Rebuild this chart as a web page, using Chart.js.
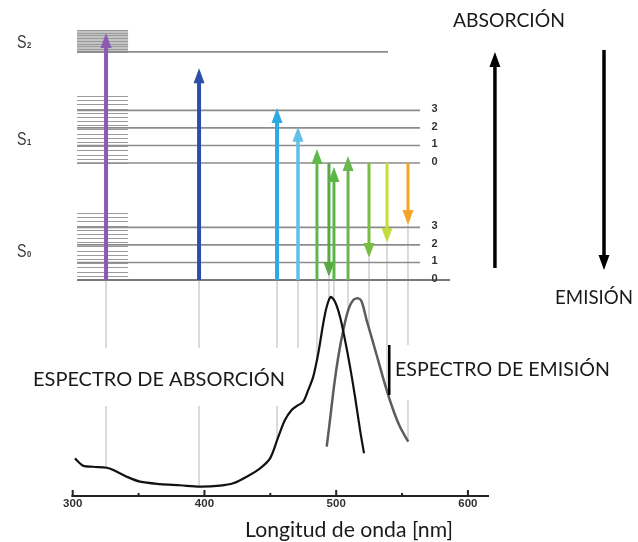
<!DOCTYPE html>
<html>
<head>
<meta charset="utf-8">
<script src="https://cdn.jsdelivr.net/npm/chart.js@4.4.1/dist/chart.umd.min.js"></script>
<style>
html, body { margin: 0; padding: 0; background: #fff; }
</style>
</head>
<body>
<canvas id="chartJablonski" width="638" height="542"></canvas>
<script>
// eje de longitud de onda
var waveTicks = [300, 350, 400, 450, 500, 550, 600];
var waveLabels = ['300', '', '400', '', '500', '', '600'];

// espectro de absorcion (nm, intensidad normalizada)
var absWave = [301.7, 308.0, 315.6, 325.8, 330.8, 341.0, 351.1, 366.3, 381.4, 396.6, 411.8, 421.9, 432.1, 442.2, 449.8, 456.1, 461.1, 466.2, 470.0, 475.0, 478.8, 482.6, 486.4, 490.2, 492.8, 495.8, 499.1, 502.9, 506.7, 510.5, 514.3, 518.1, 521.1];
var absValue = [0.189, 0.152, 0.147, 0.142, 0.131, 0.097, 0.072, 0.060, 0.054, 0.047, 0.052, 0.064, 0.097, 0.139, 0.189, 0.298, 0.382, 0.432, 0.452, 0.474, 0.533, 0.600, 0.717, 0.868, 0.951, 1.0, 0.976, 0.901, 0.784, 0.650, 0.499, 0.332, 0.215];

// espectro de emision
var emWave = [492.8, 495.3, 498.3, 501.6, 505.4, 509.2, 513.0, 516.8, 519.4, 523.1, 528.2, 533.2, 538.3, 543.3, 548.4, 554.7];
var emValue = [0.248, 0.382, 0.549, 0.700, 0.834, 0.935, 0.985, 0.993, 0.976, 0.884, 0.767, 0.650, 0.533, 0.432, 0.348, 0.273];

// niveles de energia (unidades arbitrarias)
var levelS0 = [0, 0.15, 0.30, 0.45];
var levelS1 = [1.0, 1.15, 1.30, 1.45];
var levelS2 = [1.95];
var vibLabels = ['0', '1', '2', '3'];
var stateSubs = ['0', '1', '2'];
var stateLabelE = [0.244, 1.205, 2.03];
var bandBottom = [0, 1.0, 1.95];
var bandTop = [0.573, 1.573, 2.137];
var bandCount = [17, 17, 9];

// transiciones (flechas)
var arrowWave = [325.3, 395.9, 455.1, 471.0, 485.4, 494.5, 498.3, 509.0, 524.9, 538.6, 554.5];
var arrowFrom = [0, 0, 0, 0, 0, 1.0, 0, 0, 1.0, 1.0, 1.0];
var arrowTo = [2.11, 1.81, 1.47, 1.31, 1.12, 0.026, 0.966, 1.06, 0.188, 0.316, 0.47];
var arrowColors = ['#8b5bb3', '#2d4ea6', '#2eaae2', '#62bfe8', '#5fb84a', '#58a944', '#5bb547', '#6ab84d', '#79be43', '#c4dc3c', '#f4a42a'];
var arrowWidth = [4, 4, 4, 3.5, 3, 3, 3, 3, 3, 3, 3];

var lineStartNm = 303.3;
var bandEndNm = 342;
var lineEndNm = 563.7;
var groundEndNm = 586.4;
var s2EndNm = 539.3;
var vibLabelNm = 574.6;

function px(chart, nm) { return chart.scales.x.getPixelForValue(nm); }
function pyE(chart, e) { return chart.scales.yE.getPixelForValue(e); }
function pyI(chart, v) { return chart.scales.y.getPixelForValue(v); }

function interp(xs, ys, x) {
    if (x < xs[0] || x > xs[xs.length - 1]) return null;
    for (var i = 1; i < xs.length; i++) {
        if (x <= xs[i]) {
            var t = (x - xs[i - 1]) / (xs[i] - xs[i - 1]);
            return ys[i - 1] + t * (ys[i] - ys[i - 1]);
        }
    }
    return null;
}

function drawArrow(ctx, x, y0, y1, color, width, len, half) {
    var d = y1 > y0 ? 1 : -1;
    ctx.save();
    ctx.strokeStyle = color;
    ctx.fillStyle = color;
    ctx.lineWidth = width;
    ctx.beginPath();
    ctx.moveTo(x, y0);
    ctx.lineTo(x, y1 - d * (len - 3));
    ctx.stroke();
    ctx.beginPath();
    ctx.moveTo(x, y1);
    ctx.lineTo(x - half, y1 - d * len);
    ctx.lineTo(x + half, y1 - d * len);
    ctx.closePath();
    ctx.fill();
    ctx.restore();
}

function fitText(ctx, text, family, width) {
    ctx.font = '20px ' + family;
    var w = ctx.measureText(text).width;
    return (20 * width / w).toFixed(2) + 'px ' + family;
}

var diagramPlugin = {
    id: 'diagram',
    beforeDatasetsDraw: function (chart) {
        var ctx = chart.ctx;
        // lineas de caida hasta el espectro
        ctx.save();
        ctx.strokeStyle = '#cfcfcf';
        ctx.lineWidth = 1.5;
        for (var i = 0; i < arrowWave.length; i++) {
            var nm = arrowWave[i];
            var a = interp(absWave, absValue, nm);
            var e = interp(emWave, emValue, nm);
            var v = Math.max(a === null ? 0 : a, e === null ? 0 : e);
            var x = px(chart, nm);
            ctx.beginPath();
            ctx.moveTo(x, pyE(chart, Math.min(arrowFrom[i], arrowTo[i])));
            ctx.lineTo(x, pyI(chart, v));
            ctx.stroke();
        }
        ctx.restore();

        // bandas rotacionales
        ctx.save();
        ctx.strokeStyle = '#9a9a9a';
        ctx.lineWidth = 1.2;
        var bx0 = px(chart, lineStartNm), bx1 = px(chart, bandEndNm);
        for (var b = 0; b < bandBottom.length; b++) {
            if (b === 2) {
                ctx.fillStyle = '#c4c4c4';
                ctx.fillRect(bx0, pyE(chart, bandTop[b]), bx1 - bx0, pyE(chart, bandBottom[b]) - pyE(chart, bandTop[b]));
            }
            for (var k = 0; k < bandCount[b]; k++) {
                var ee = bandBottom[b] + (bandTop[b] - bandBottom[b]) * k / (bandCount[b] - 1);
                var yy = Math.round(pyE(chart, ee)) + 0.5;
                ctx.beginPath();
                ctx.moveTo(bx0, yy);
                ctx.lineTo(bx1, yy);
                ctx.stroke();
            }
        }
        ctx.restore();

        // cuadros de texto blancos
        ctx.save();
        ctx.fillStyle = '#ffffff';
        ctx.fillRect(28, 348, 273, 58);
        ctx.fillRect(389, 345, 227, 55);
        ctx.restore();
    },
    afterDatasetsDraw: function (chart) {
        var ctx = chart.ctx;
        // flechas de transicion
        for (var i = 0; i < arrowWave.length; i++) {
            drawArrow(ctx, px(chart, arrowWave[i]), pyE(chart, arrowFrom[i]), pyE(chart, arrowTo[i]),
                arrowColors[i], arrowWidth[i], 15, 5.5);
        }
        // flechas negras
        drawArrow(ctx, px(chart, 620.5), pyE(chart, 0.103), pyE(chart, 1.949), '#000', 3.5, 15, 5.5);
        drawArrow(ctx, px(chart, 703.3), pyE(chart, 1.966), pyE(chart, 0.085), '#000', 3.5, 15, 5.5);

        // etiquetas vibracionales
        ctx.save();
        ctx.fillStyle = '#333';
        ctx.font = 'bold 11px "Liberation Sans", sans-serif';
        ctx.textAlign = 'center';
        ctx.textBaseline = 'middle';
        var lx = px(chart, vibLabelNm);
        for (var v = 0; v < vibLabels.length; v++) {
            ctx.fillText(vibLabels[v], lx, pyE(chart, levelS1[v]) - 1);
            ctx.fillText(vibLabels[v], lx, pyE(chart, levelS0[v]) - 1);
        }
        ctx.restore();

        // estados S0, S1, S2
        ctx.save();
        ctx.fillStyle = '#383838';
        ctx.textAlign = 'left';
        ctx.textBaseline = 'alphabetic';
        for (var s = 0; s < stateSubs.length; s++) {
            var by = pyE(chart, stateLabelE[s]) + 6;
            ctx.save();
            ctx.translate(17, by);
            ctx.scale(0.95, 1.22);
            ctx.font = '15px "Liberation Sans", sans-serif';
            ctx.fillText('S', 0, 0);
            ctx.font = 'bold 8px "Liberation Sans", sans-serif';
            ctx.fillText(stateSubs[s], 10.5, 0);
            ctx.restore();
        }
        ctx.restore();

        // eje x
        var area = chart.chartArea;
        ctx.save();
        ctx.strokeStyle = '#222';
        ctx.lineWidth = 2;
        ctx.beginPath();
        ctx.moveTo(area.left, area.bottom);
        ctx.lineTo(area.right, area.bottom);
        ctx.stroke();
        ctx.fillStyle = '#333';
        ctx.textAlign = 'center';
        ctx.textBaseline = 'middle';
        for (var t = 0; t < waveTicks.length; t++) {
            var tx = px(chart, waveTicks[t]);
            var h = waveLabels[t] ? 6 : 3;
            ctx.beginPath();
            ctx.moveTo(tx, area.bottom);
            ctx.lineTo(tx, area.bottom - h);
            ctx.stroke();
            if (waveLabels[t]) {
                ctx.save();
                ctx.translate(tx, area.bottom + 8);
                ctx.scale(1.15, 1);
                ctx.font = 'bold 10px "Liberation Sans", sans-serif';
                ctx.fillText(waveLabels[t], 0, 0);
                ctx.restore();
            }
        }
        ctx.restore();

        // textos
        ctx.save();
        ctx.fillStyle = '#1a1a1a';
        ctx.textBaseline = 'middle';
        var fam = 'Lato, "Open Sans", sans-serif';
        ctx.textAlign = 'center';
        ctx.font = fitText(ctx, 'ABSORCIÓN', fam, 112);
        ctx.fillText('ABSORCIÓN', 509, 21);
        ctx.font = fitText(ctx, 'EMISIÓN', fam, 78);
        ctx.fillText('EMISIÓN', 594, 298);
        ctx.font = fitText(ctx, 'Longitud de onda [nm]', fam, 208);
        ctx.fillText('Longitud de onda [nm]', 349, 530);
        ctx.textAlign = 'left';
        ctx.font = fitText(ctx, 'ESPECTRO DE ABSORCIÓN', fam, 252);
        ctx.fillText('ESPECTRO DE ABSORCIÓN', 33, 380);
        ctx.font = fitText(ctx, 'ESPECTRO DE EMISIÓN', fam, 215);
        ctx.fillText('ESPECTRO DE EMISIÓN', 395, 370);
        ctx.restore();

        // barra negra junto al texto de emision
        ctx.save();
        ctx.fillStyle = '#000';
        ctx.fillRect(388, 345, 2.5, 50);
        ctx.restore();
    }
};

var datasets = [];
datasets.push({
    label: 'Absorción',
    data: absWave.map(function (w, i) { return { x: w, y: absValue[i] }; }),
    borderColor: '#111111', borderWidth: 2.2, tension: 0.3, yAxisID: 'y', order: 0
});
datasets.push({
    label: 'Emisión',
    data: emWave.map(function (w, i) { return { x: w, y: emValue[i] }; }),
    borderColor: '#5c5c5c', borderWidth: 2.5, tension: 0.3, yAxisID: 'y', order: 0
});

function addLevel(e, endNm, width, color) {
    datasets.push({
        label: 'nivel ' + e,
        data: [{ x: lineStartNm, y: e }, { x: endNm, y: e }],
        borderColor: color, borderWidth: width, yAxisID: 'yE', order: 5
    });
}
levelS0.forEach(function (e, i) { addLevel(e, i === 0 ? groundEndNm : lineEndNm, i === 0 ? 2 : 1.6, i === 0 ? '#7a7a7a' : '#8c8c8c'); });
levelS1.forEach(function (e) { addLevel(e, lineEndNm, 1.6, '#8c8c8c'); });
levelS2.forEach(function (e) { addLevel(e, s2EndNm, 1.6, '#8c8c8c'); });

new Chart(document.getElementById('chartJablonski'), {
    type: 'line',
    data: { datasets: datasets },
    options: {
        responsive: false,
        animation: false,
        layout: { padding: { left: 71.4, right: 149, top: 20, bottom: 46 } },
        elements: { point: { radius: 0 } },
        plugins: { legend: { display: false }, tooltip: { enabled: false } },
        scales: {
            x: { type: 'linear', min: 299, max: 616, display: false },
            y: { min: 0, max: 2.392, display: false },
            yE: { min: -1.846, max: 2.222, display: false }
        }
    },
    plugins: [diagramPlugin]
});
</script>
</body>
</html>
